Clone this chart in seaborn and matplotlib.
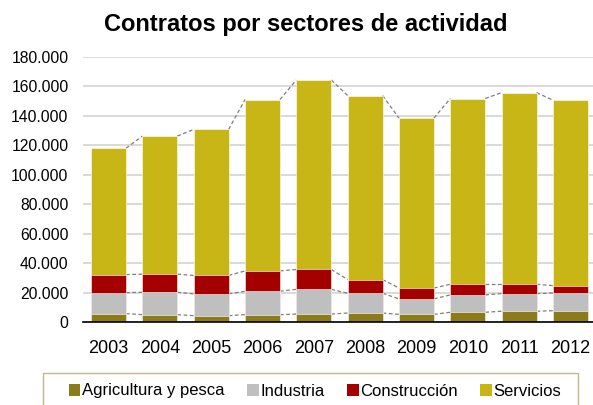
import numpy as np
import pandas as pd
import matplotlib
matplotlib.use("Agg")
import matplotlib.pyplot as plt
from matplotlib.patches import Patch, Rectangle
import seaborn as sns

years = ["2003", "2004", "2005", "2006", "2007", "2008", "2009", "2010", "2011", "2012"]
agricultura = [5700, 5000, 4300, 5000, 5400, 6100, 5200, 6600, 7300, 7700]
industria = [14300, 15200, 14800, 15900, 16800, 13400, 10500, 11800, 12000, 12000]
construccion = [12200, 12300, 12500, 13800, 13500, 9300, 7400, 7200, 6300, 5000]
servicios = [85800, 93800, 99200, 116400, 128700, 125000, 115400, 126200, 130200, 126000]

sectores = ["Agricultura y pesca", "Industria", "Construcción", "Servicios"]
colores = ["#8C7B1B", "#BFBFBF", "#A50000", "#C8B617"]

df = pd.DataFrame({"year": years, "Agricultura y pesca": agricultura, "Industria": industria,
                   "Construcción": construccion, "Servicios": servicios})
cum = df[sectores].cumsum(axis=1)

sns.set_style("white")
plt.rcParams["font.family"] = ["Liberation Sans", "DejaVu Sans"]
plt.rcParams["text.color"] = "black"
plt.rcParams["xtick.color"] = "black"
plt.rcParams["ytick.color"] = "black"

fig = plt.figure(figsize=(5.93, 4.05), dpi=100)
ax = fig.add_axes([82.5 / 593, 1 - 322 / 405, 1 - 82.5 / 593, (322 - 57) / 405])

w = 0.68
# stacked bars: draw cumulative totals from top segment down
for s, c in reversed(list(zip(sectores, colores))):
    sns.barplot(x=df["year"], y=cum[s], color=c, width=w, ax=ax,
                saturation=1, edgecolor="white", linewidth=0.4, zorder=3)

# Excel style series lines between bars
for s in sectores:
    v = cum[s].values
    for i in range(len(v) - 1):
        ax.plot([i + w / 2, i + 1 - w / 2], [v[i], v[i + 1]], color="#7F7F7F",
                ls=(0, (3, 2)), lw=0.9, zorder=2)

ax.set_ylim(0, 180000)
ax.set_xlim(-0.507, 9.44)
ax.set_yticks(np.arange(0, 180001, 20000))
ax.set_yticklabels([f"{int(t):,}".replace(",", ".") for t in ax.get_yticks()])
ax.grid(axis="y", color="#D9D9D9", lw=1.4, zorder=0)
ax.set_axisbelow(True)
ax.set_xlabel("")
ax.set_ylabel("")
ax.tick_params(axis="y", length=0, pad=10, labelsize=11.3, labelcolor="black")
ax.tick_params(axis="x", length=0, pad=13, labelsize=13, labelcolor="black")
for sp in ["left", "right", "top"]:
    ax.spines[sp].set_visible(False)
ax.spines["bottom"].set_color("black")
ax.spines["bottom"].set_linewidth(1.2)
ax.spines["bottom"].set_zorder(5)

fig.text(306 / 593, 1 - 31.5 / 405, "Contratos por sectores de actividad",
         ha="center", va="baseline", fontsize=17, fontweight="bold", color="black")

# legend box (Excel style, runs off the bottom edge)
fig.patches.append(Rectangle((43 / 593, -0.05), (578 - 43) / 593, 0.05 + 1 - 373 / 405,
                             transform=fig.transFigure, fill=False,
                             edgecolor="#C4B58A", lw=1))
handles = [Patch(facecolor=c, edgecolor="none") for c in colores]
leg = fig.legend(handles, sectores, loc="center", ncol=4,
                 bbox_to_anchor=(315 / 593, 1 - 391 / 405),
                 bbox_transform=fig.transFigure, borderaxespad=0, fontsize=12,
                 handlelength=0.7, handleheight=0.7, handletextpad=0.1,
                 columnspacing=1.35, frameon=False)
for t in leg.get_texts():
    t.set_color("black")

fig.savefig("out.png", dpi=100)
